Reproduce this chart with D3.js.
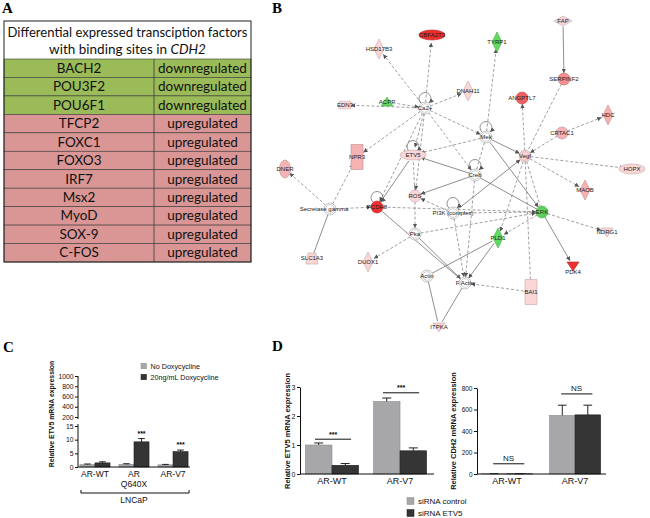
<!DOCTYPE html>
<html><head><meta charset="utf-8">
<script src="https://cdn.jsdelivr.net/npm/d3@7"></script>
<style>body{margin:0;background:#fff} svg{display:block}</style>
</head><body><svg id="fig" width="650" height="518"></svg>
<script>
// ---------- panel A data ----------
const tfNames = ["BACH2","POU3F2","POU6F1","TFCP2","FOXC1","FOXO3","IRF7","Msx2","MyoD","SOX-9","C-FOS"]
const tfStatus = ["downregulated","downregulated","downregulated","upregulated","upregulated","upregulated",
  "upregulated","upregulated","upregulated","upregulated","upregulated"]

// ---------- panel B data (IPA network) ----------
const netNames = ["FAP","CBFA2T3","TYRP1","HSD17B3","SERPINF2","DNAH11","ANGPTL7","EDN3","ACPP","Ca2+",
  "HDC","CRTAC1","Mek","ETV5","NPR3","Vegf","DNER","HOPX","Creb","MAOB","ROS","Secretase gamma","PCDH8",
  "PI3K (complex)","ERK","Pka","PLD1","NDRG1","SLC1A3","DUOX1","PDK4","Actin","F Actin","BAI1","ITPKA"]
const netTypes = ["peptidase","tr","enzyme","enzyme","other","enzyme","other","growth","phosphatase","group",
  "enzyme","other","group","tr","receptor","group","tmr","tr","group","enzyme","other","group","other",
  "group","group","group","enzyme","kinase","transporter","enzyme","kinase","group","group","receptor","kinase"]
// regulation: >0 up (darker red = stronger), <0 down, 0 = not measured
const netReg = [1,3,-1,1,2,1,2.5,1,-1,0, 1.5,1.5,0,1,1.5,1,1.5,1,0,1.5,1,0,3, 0,-1,0,-1,1,1,1,3,0,0,1,1]
// layout (relative to panel B origin)
const netLayoutX = [293,162,227,109,294,198,252,75,117,155, 338,292,216,143,87,255,15,362,205,315,145,60,107,
  183,272,145,228,337,42,98,303,157,195,261,169]
const netLayoutY = [21,35,42,49,79,91,98,105,102,108, 115,133,137,155,157,156,169,169,175,190,196,209,207,
  213,212,234,238,232,258,262,266,276,283,292,327]
// [source, target, d=direct / i=indirect, arrow]
const netEdges = [
  ["FAP","SERPINF2","d",1],["Ca2+","CBFA2T3","i",1],["Ca2+","HSD17B3","i",1],["Ca2+","DNAH11","i",1],
  ["ACPP","Ca2+","i",1],["Ca2+","EDN3","i",1],["Ca2+","Mek","i",1],["Ca2+","ETV5","i",1],["Ca2+","ROS","i",1],
  ["Ca2+","NPR3","i",1],["Ca2+","Creb","i",1],["Ca2+","PCDH8","i",1],["Mek","TYRP1","i",1],["Mek","Vegf","d",1],
  ["Mek","ERK","d",1],["Mek","ETV5","i",1],["Mek","Creb","i",0],["SERPINF2","Vegf","i",0],["Vegf","ANGPTL7","i",1],
  ["CRTAC1","HDC","i",1],["CRTAC1","Vegf","i",1],["Vegf","HOPX","i",1],["Vegf","MAOB","i",1],["Vegf","PLD1","i",1],
  ["Vegf","BAI1","i",0],["Vegf","ERK","i",0],["Creb","ETV5","d",1],["Creb","ROS","d",1],["Creb","ERK","d",0],
  ["Creb","F Actin","i",1],["PI3K (complex)","Vegf","d",1],["PI3K (complex)","ERK","i",1],["PI3K (complex)","ROS","i",1],
  ["PCDH8","ERK","i",1],["ETV5","PCDH8","d",1],["ETV5","ROS","i",0],["Secretase gamma","DNER","i",1],
  ["Secretase gamma","NPR3","i",1],["Secretase gamma","PCDH8","i",1],["SLC1A3","Secretase gamma","d",0],
  ["ROS","Pka","i",1],["Pka","ERK","i",1],["Pka","DUOX1","i",1],["Pka","F Actin","d",1],["ERK","NDRG1","i",1],
  ["ERK","PDK4","d",1],["ERK","PLD1","i",1],["PLD1","Actin","d",0],["PLD1","F Actin","d",1],["Actin","ITPKA","d",0],
  ["F Actin","ITPKA","d",0],["BAI1","F Actin","i",1],["PCDH8","F Actin","d",0],["PI3K (complex)","F Actin","i",1]
]
const netSelfLoops = ["Ca2+","Mek","ETV5","Creb","PCDH8","PI3K (complex)"]

// ---------- panel C data ----------
const cCats = ["AR-WT","AR Q640X","AR-V7"]
const cNoDox = [0.9, 1.0, 0.8]
const cNoDoxErr = [0.2, 0.2, 0.15]
const cDox = [1.5, 9.2, 5.6]
const cDoxErr = [0.4, 1.2, 0.6]
const cSig = ["", "***", "***"]
const cLowTicks = [0, 5, 10, 15]
const cHighTicks = [200, 400, 600, 800, 1000]

// ---------- panel D data ----------
const dCats = ["AR-WT","AR-V7"]
const dEtvCtrl = [1.0, 2.5]
const dEtvCtrlErr = [0.07, 0.12]
const dEtvSi = [0.3, 0.8]
const dEtvSiErr = [0.06, 0.1]
const dEtvSig = ["***","***"]
const dEtvSigLevel = [1.2, 2.8]
const dCdhCtrl = [2, 545]
const dCdhCtrlErr = [1, 95]
const dCdhSi = [2, 550]
const dCdhSiErr = [1, 90]
const dCdhSig = ["NS","NS"]
const dCdhSigLevel = [95, 745]

const GREY = "#a7a7aa", DARK = "#353535"
const sans = "'Liberation Sans', Arial, sans-serif"

const svg = d3.select("#fig")
svg.append("rect").attr("width", 650).attr("height", 518).attr("fill", "#fff")

// panel letters
const letters = [["A", 2, 13], ["B", 272, 13], ["C", 3, 352], ["D", 272, 351]]
svg.selectAll("text.letter").data(letters).join("text")
  .attr("class", "letter").attr("x", d => d[1]).attr("y", d => d[2])
  .attr("font-family", "'Liberation Serif', 'Times New Roman', serif")
  .attr("font-weight", "bold").attr("font-size", 15).text(d => d[0])

// ================= A: table =================
const tbl = svg.append("g")
const tL = 4, tR = 251, tDiv = 154, tTop = 21, tHead = 59, tBot = 262
const rowY = d3.scaleBand().domain(tfNames).range([tHead, tBot])
tbl.append("rect").attr("x", tL).attr("y", tTop).attr("width", tR - tL).attr("height", tHead - tTop)
  .attr("fill", "#fff")
tbl.selectAll("rect.row").data(tfNames).join("rect").attr("class", "row")
  .attr("x", tL).attr("y", d => rowY(d)).attr("width", tR - tL).attr("height", rowY.bandwidth())
  .attr("fill", (d, i) => tfStatus[i] === "downregulated" ? "#9bbb59" : "#d99694")
  .attr("stroke", "#3a3a3a").attr("stroke-width", 0.6)
tbl.append("line").attr("x1", tDiv).attr("x2", tDiv).attr("y1", tHead).attr("y2", tBot)
  .attr("stroke", "#3a3a3a").attr("stroke-width", 0.8)
tbl.append("rect").attr("x", tL).attr("y", tTop).attr("width", tR - tL).attr("height", tBot - tTop)
  .attr("fill", "none").attr("stroke", "#222").attr("stroke-width", 1)
const tFont = "Lato, 'Open Sans', sans-serif"
const h1 = tbl.append("text").attr("x", (tL + tR) / 2).attr("y", 37).attr("text-anchor", "middle")
  .attr("font-family", tFont).attr("font-size", 13.5).attr("fill", "#111")
  .text("Differential expressed transciption factors")
const h2 = tbl.append("text").attr("x", (tL + tR) / 2).attr("y", 54).attr("text-anchor", "middle")
  .attr("font-family", tFont).attr("font-size", 13.5).attr("fill", "#111")
h2.append("tspan").text("with binding  sites in ")
h2.append("tspan").attr("font-style", "italic").text("CDH2")
// squeeze the header into the cell width if the font runs wide
;[h1, h2].forEach(t => {
  const w = t.node().getComputedTextLength()
  if (w > 240) t.attr("textLength", 240).attr("lengthAdjust", "spacingAndGlyphs")
})
tbl.selectAll("text.name").data(tfNames).join("text").attr("class", "name")
  .attr("x", (tL + tDiv) / 2).attr("y", d => rowY(d) + rowY.bandwidth() / 2 + 4.6)
  .attr("text-anchor", "middle").attr("font-family", tFont).attr("font-size", 13.5).attr("fill", "#111")
  .text(d => d)
tbl.selectAll("text.stat").data(tfStatus).join("text").attr("class", "stat")
  .attr("x", (tDiv + tR) / 2).attr("y", (d, i) => rowY(tfNames[i]) + rowY.bandwidth() / 2 + 4.6)
  .attr("text-anchor", "middle").attr("font-family", tFont).attr("font-size", 13.5).attr("fill", "#111")
  .text(d => d)

// ================= B: network =================
const netX = d3.scaleLinear().domain([0, 370]).range([270, 640])
const netY = d3.scaleLinear().domain([0, 340]).range([0, 340])
const regColor = d3.scaleLinear().domain([-1, -0.01, 0, 1, 2, 3])
  .range(["#62da62", "#62da62", "#ffffff", "#fbd6d6", "#f38f8f", "#ee2f2f"])
const nodes = netNames.map((n, i) => ({
  name: n, type: netTypes[i], reg: netReg[i], x: netX(netLayoutX[i]), y: netY(netLayoutY[i])
}))
const byName = Object.fromEntries(nodes.map(d => [d.name, d]))
const nodeR = d => ({ tr: 9, enzyme: 8, peptidase: 7, receptor: 9 }[d.type] || 7)

const defs = svg.append("defs")
defs.append("marker").attr("id", "arr").attr("viewBox", "0 0 6 6").attr("refX", 6).attr("refY", 3)
  .attr("markerWidth", 4.5).attr("markerHeight", 4.5).attr("markerUnits", "userSpaceOnUse")
  .attr("orient", "auto").append("path").attr("d", "M0,0L6,3L0,6Z").attr("fill", "#555")

const net = svg.append("g")
const edges = netEdges.map(e => {
  const s = byName[e[0]], t = byName[e[1]]
  const dx = t.x - s.x, dy = t.y - s.y, L = Math.hypot(dx, dy)
  const rs = nodeR(s) * 0.8, rt = nodeR(t) * 0.85
  return { x1: s.x + dx / L * rs, y1: s.y + dy / L * rs, x2: t.x - dx / L * rt, y2: t.y - dy / L * rt,
    kind: e[2], arrow: e[3] }
})
net.selectAll("line.edge").data(edges).join("line").attr("class", "edge")
  .attr("x1", d => d.x1).attr("y1", d => d.y1).attr("x2", d => d.x2).attr("y2", d => d.y2)
  .attr("stroke", d => d.kind === "d" ? "#6a6a6a" : "#808080").attr("stroke-width", 0.75)
  .attr("stroke-dasharray", d => d.kind === "d" ? null : "3,2")
  .attr("marker-end", d => d.arrow ? "url(#arr)" : null)
net.selectAll("path.loop").data(netSelfLoops.map(n => byName[n])).join("path").attr("class", "loop")
  .attr("d", d => {
    const top = d.type === "tr" ? 5 : 6
    return `M${d.x - 4},${d.y - top + 1} A6,6 0 1 1 ${d.x + 4},${d.y - top + 1}`
  })
  .attr("fill", "none").attr("stroke", "#6a6a6a").attr("stroke-width", 0.75)
  .attr("marker-end", "url(#arr)")

const shapePath = d => {
  const x = d.x, y = d.y
  switch (d.type) {
    case "enzyme": return `M${x},${y - 10}L${x + 5},${y}L${x},${y + 10}L${x - 5},${y}Z`
    case "peptidase": return `M${x - 9},${y}L${x},${y - 5}L${x + 9},${y}L${x},${y + 5}Z`
    case "phosphatase": return `M${x - 6},${y + 4}L${x + 6},${y + 4}L${x},${y - 5}Z`
    case "kinase": return `M${x - 6},${y - 4}L${x + 6},${y - 4}L${x},${y + 5}Z`
    case "transporter": return `M${x - 6},${y + 6}L${x + 6},${y + 6}L${x + 4},${y - 5}L${x - 4},${y - 5}Z`
    case "receptor": return `M${x - 6},${y - 12.5}h12v25h-12Z`
    case "growth": return `M${x - 6},${y - 4}h12v8h-12Z`
    default: return null
  }
}
const ng = net.selectAll("g.node").data(nodes).join("g").attr("class", "node")
ng.each(function (d) {
  const g = d3.select(this)
  const fill = regColor(d.reg)
  const stroke = d.reg === 0 ? "#9a9a9a" : d3.color(fill).darker(0.7)
  if (d.type === "tr") {
    g.append("ellipse").attr("cx", d.x).attr("cy", d.y).attr("rx", 13).attr("ry", 5)
      .attr("fill", fill).attr("stroke", stroke).attr("stroke-width", 0.6)
  } else if (d.type === "tmr") {
    g.append("ellipse").attr("cx", d.x).attr("cy", d.y).attr("rx", 5.5).attr("ry", 9)
      .attr("fill", fill).attr("stroke", stroke).attr("stroke-width", 0.6)
  } else if (d.type === "other") {
    g.append("circle").attr("cx", d.x).attr("cy", d.y).attr("r", 6)
      .attr("fill", fill).attr("stroke", stroke).attr("stroke-width", 0.6)
  } else if (d.type === "group") {
    g.append("circle").attr("cx", d.x).attr("cy", d.y).attr("r", 6)
      .attr("fill", fill).attr("stroke", stroke).attr("stroke-width", 0.6)
    g.append("circle").attr("cx", d.x).attr("cy", d.y).attr("r", 4.3)
      .attr("fill", "none").attr("stroke", stroke).attr("stroke-width", 0.5)
  } else {
    g.append("path").attr("d", shapePath(d)).attr("fill", fill).attr("stroke", stroke)
      .attr("stroke-width", 0.6).attr("stroke-dasharray", d.type === "growth" ? "1.5,1" : null)
  }
})
ng.append("text").attr("x", d => d.x + (d.name === "Secretase gamma" ? -6 : 0))
  .attr("y", d => d.y + (d.name === "PDK4" ? 8 : 2))
  .attr("text-anchor", "middle").attr("font-family", sans).attr("font-size", 6).attr("fill", "#1a1a1a")
  .text(d => d.name)

// ================= shared bar helpers =================
function bars(g, cats, a, aErr, b, bErr, x, y, capFrac) {
  const inner = d3.scaleBand().domain([0, 1]).range([0, x.bandwidth()])
  const rows = []
  cats.forEach((c, i) => {
    rows.push({ c, k: 0, v: a[i], e: aErr[i] })
    rows.push({ c, k: 1, v: b[i], e: bErr[i] })
  })
  const bw = inner.bandwidth()
  g.selectAll("rect.bar").data(rows).join("rect").attr("class", "bar")
    .attr("x", d => x(d.c) + inner(d.k)).attr("width", bw)
    .attr("y", d => y(d.v)).attr("height", d => y(0) - y(d.v))
    .attr("fill", d => d.k ? DARK : GREY).attr("stroke", d => d.k ? "#1c1c1c" : "#8e8e90")
    .attr("stroke-width", 0.6)
  const cx = d => x(d.c) + inner(d.k) + bw / 2
  g.selectAll("line.err").data(rows).join("line").attr("class", "err")
    .attr("x1", cx).attr("x2", cx).attr("y1", d => y(d.v)).attr("y2", d => y(d.v + d.e))
    .attr("stroke", "#222").attr("stroke-width", 1)
  g.selectAll("line.cap").data(rows).join("line").attr("class", "cap")
    .attr("x1", d => cx(d) - bw * capFrac).attr("x2", d => cx(d) + bw * capFrac)
    .attr("y1", d => y(d.v + d.e)).attr("y2", d => y(d.v + d.e))
    .attr("stroke", "#222").attr("stroke-width", 1)
  return { inner, rows }
}
function styleAxis(g, fs) {
  g.selectAll("path,line").attr("stroke", "#111").attr("stroke-width", 1)
  g.selectAll("text").attr("font-family", sans).attr("font-size", fs).attr("fill", "#111")
}
function yLabel(x, cy, txt, fs) {
  svg.append("text").attr("transform", `translate(${x},${cy}) rotate(-90)`).attr("text-anchor", "middle")
    .attr("font-family", sans).attr("font-size", fs).attr("font-weight", "bold").attr("fill", "#111").text(txt)
}
function legend(x, y0, dy, labels, fs, sq) {
  labels.forEach((t, i) => {
    svg.append("rect").attr("x", x).attr("y", y0 + i * dy - sq / 2).attr("width", sq).attr("height", sq)
      .attr("fill", i ? DARK : GREY).attr("stroke", i ? "#1c1c1c" : "#8e8e90").attr("stroke-width", 0.5)
    svg.append("text").attr("x", x + sq + 4).attr("y", y0 + i * dy + fs * 0.35)
      .attr("font-family", sans).attr("font-size", fs).attr("fill", "#111").text(t)
  })
}

// ================= C =================
const gC = svg.append("g")
const xC = d3.scaleBand().domain(cCats).range([78, 190]).paddingInner(0.23).paddingOuter(0.05)
const yLow = d3.scaleLinear().domain([0, 15]).range([467, 426])
const yHigh = d3.scaleLinear().domain([200, 1000]).range([417, 376])
bars(gC, cCats, cNoDox, cNoDoxErr, cDox, cDoxErr, xC, yLow, 0.22)
const axLow = gC.append("g").attr("transform", "translate(78,0)")
  .call(d3.axisLeft(yLow).tickValues(cLowTicks).tickSize(3).tickSizeOuter(0).tickPadding(1.5))
axLow.select(".domain").attr("d", `M0,${yLow(0)}V${yLow(15) - 2}`)
styleAxis(axLow, 6.8)
const axHigh = gC.append("g").attr("transform", "translate(78,0)")
  .call(d3.axisLeft(yHigh).tickValues(cHighTicks).tickFormat(d3.format("d"))
    .tickSize(3).tickSizeOuter(0).tickPadding(1.5))
axHigh.select(".domain").attr("d", `M0,${yHigh(200) + 2}V${yHigh(1000)}`)
styleAxis(axHigh, 6.8)
gC.append("line").attr("x1", 78).attr("x2", 190).attr("y1", yLow(0)).attr("y2", yLow(0))
  .attr("stroke", "#111").attr("stroke-width", 1)
const innerC = d3.scaleBand().domain([0, 1]).range([0, xC.bandwidth()])
gC.selectAll("text.sig").data(cCats).join("text").attr("class", "sig")
  .attr("x", d => xC(d) + innerC(1) + innerC.bandwidth() / 2)
  .attr("y", (d, i) => yLow(cDox[i] + cDoxErr[i]) - 3)
  .attr("text-anchor", "middle").attr("font-family", sans).attr("font-size", 7).attr("font-weight", "bold")
  .text((d, i) => cSig[i])
gC.selectAll("text.cat").data(cCats).join("text").attr("class", "cat")
  .attr("text-anchor", "middle").attr("font-family", sans).attr("font-size", 8.5).attr("fill", "#111")
  .each(function (d) {
    const parts = d.split(" ")
    parts.forEach((p, j) => d3.select(this).append("tspan")
      .attr("x", xC(d) + xC.bandwidth() / 2).attr("y", 477 + j * 9.5).text(p))
  })
gC.append("path").attr("d", `M${xC(cCats[0]) + 1},490V493H${xC(cCats[2]) + xC.bandwidth() + 1}V490`)
  .attr("fill", "none").attr("stroke", "#111").attr("stroke-width", 1)
gC.append("text").attr("x", xC("AR Q640X") + xC.bandwidth() / 2).attr("y", 503).attr("text-anchor", "middle")
  .attr("font-family", sans).attr("font-size", 8.5).attr("fill", "#111").text("LNCaP")
yLabel(54, 414, "Relative ETV5 mRNA expression", 6.9)
legend(141, 366, 11, ["No Doxycycline", "20ng/mL Doxycycline"], 7.2, 5.5)

// ================= D left =================
const gD1 = svg.append("g")
const xD1 = d3.scaleBand().domain(dCats).range([300, 432]).paddingInner(0.22).paddingOuter(0.08)
const yD1 = d3.scaleLinear().domain([0, 3]).range([474, 387])
bars(gD1, dCats, dEtvCtrl, dEtvCtrlErr, dEtvSi, dEtvSiErr, xD1, yD1, 0.17)
const axD1 = gD1.append("g").attr("transform", "translate(300,0)")
  .call(d3.axisLeft(yD1).ticks(3).tickFormat(d3.format("d")).tickSize(3).tickSizeOuter(0).tickPadding(1.5))
styleAxis(axD1, 7)
gD1.append("line").attr("x1", 300).attr("x2", 434).attr("y1", yD1(0)).attr("y2", yD1(0))
  .attr("stroke", "#111").attr("stroke-width", 1)
gD1.selectAll("line.sigl").data(dCats).join("line").attr("class", "sigl")
  .attr("x1", d => xD1(d) + xD1.bandwidth() * 0.18).attr("x2", d => xD1(d) + xD1.bandwidth() * 0.86)
  .attr("y1", (d, i) => yD1(dEtvSigLevel[i])).attr("y2", (d, i) => yD1(dEtvSigLevel[i]))
  .attr("stroke", "#111").attr("stroke-width", 1)
gD1.selectAll("text.sig").data(dCats).join("text").attr("class", "sig")
  .attr("x", d => xD1(d) + xD1.bandwidth() * 0.52).attr("y", (d, i) => yD1(dEtvSigLevel[i]) - 2.5)
  .attr("text-anchor", "middle").attr("font-family", sans).attr("font-size", 7).attr("font-weight", "bold")
  .text((d, i) => dEtvSig[i])
gD1.selectAll("text.cat").data(dCats).join("text").attr("class", "cat")
  .attr("x", d => xD1(d) + xD1.bandwidth() / 2).attr("y", 484).attr("text-anchor", "middle")
  .attr("font-family", sans).attr("font-size", 9).attr("fill", "#111").text(d => d)
yLabel(290, 431, "Relative ETV5 mRNA expression", 7.5)

// ================= D right =================
const gD2 = svg.append("g")
const xD2 = d3.scaleBand().domain(dCats).range([477, 605]).paddingInner(0.25).paddingOuter(0.065)
const yD2 = d3.scaleLinear().domain([0, 800]).range([474, 388])
bars(gD2, dCats, dCdhCtrl, dCdhCtrlErr, dCdhSi, dCdhSiErr, xD2, yD2, 0.17)
const axD2 = gD2.append("g").attr("transform", "translate(477,0)")
  .call(d3.axisLeft(yD2).tickValues([0, 200, 400, 600, 800]).tickSize(3).tickSizeOuter(0).tickPadding(1.5))
styleAxis(axD2, 6.5)
gD2.append("line").attr("x1", 477).attr("x2", 606).attr("y1", yD2(0)).attr("y2", yD2(0))
  .attr("stroke", "#111").attr("stroke-width", 1)
gD2.selectAll("line.sigl").data(dCats).join("line").attr("class", "sigl")
  .attr("x1", d => xD2(d) + xD2.bandwidth() * 0.23).attr("x2", d => xD2(d) + xD2.bandwidth() * 0.84)
  .attr("y1", (d, i) => yD2(dCdhSigLevel[i])).attr("y2", (d, i) => yD2(dCdhSigLevel[i]))
  .attr("stroke", "#111").attr("stroke-width", 1)
gD2.selectAll("text.sig").data(dCats).join("text").attr("class", "sig")
  .attr("x", d => xD2(d) + xD2.bandwidth() * 0.53).attr("y", (d, i) => yD2(dCdhSigLevel[i]) - 2.5)
  .attr("text-anchor", "middle").attr("font-family", sans).attr("font-size", 8).attr("fill", "#111")
  .text((d, i) => dCdhSig[i])
gD2.selectAll("text.cat").data(dCats).join("text").attr("class", "cat")
  .attr("x", d => xD2(d) + xD2.bandwidth() / 2).attr("y", 484).attr("text-anchor", "middle")
  .attr("font-family", sans).attr("font-size", 9).attr("fill", "#111").text(d => d)
yLabel(456, 431, "Relative CDH2 mRNA expression", 7.5)

legend(407, 501, 12, ["siRNA control", "siRNA ETV5"], 8, 7)
</script></body></html>
